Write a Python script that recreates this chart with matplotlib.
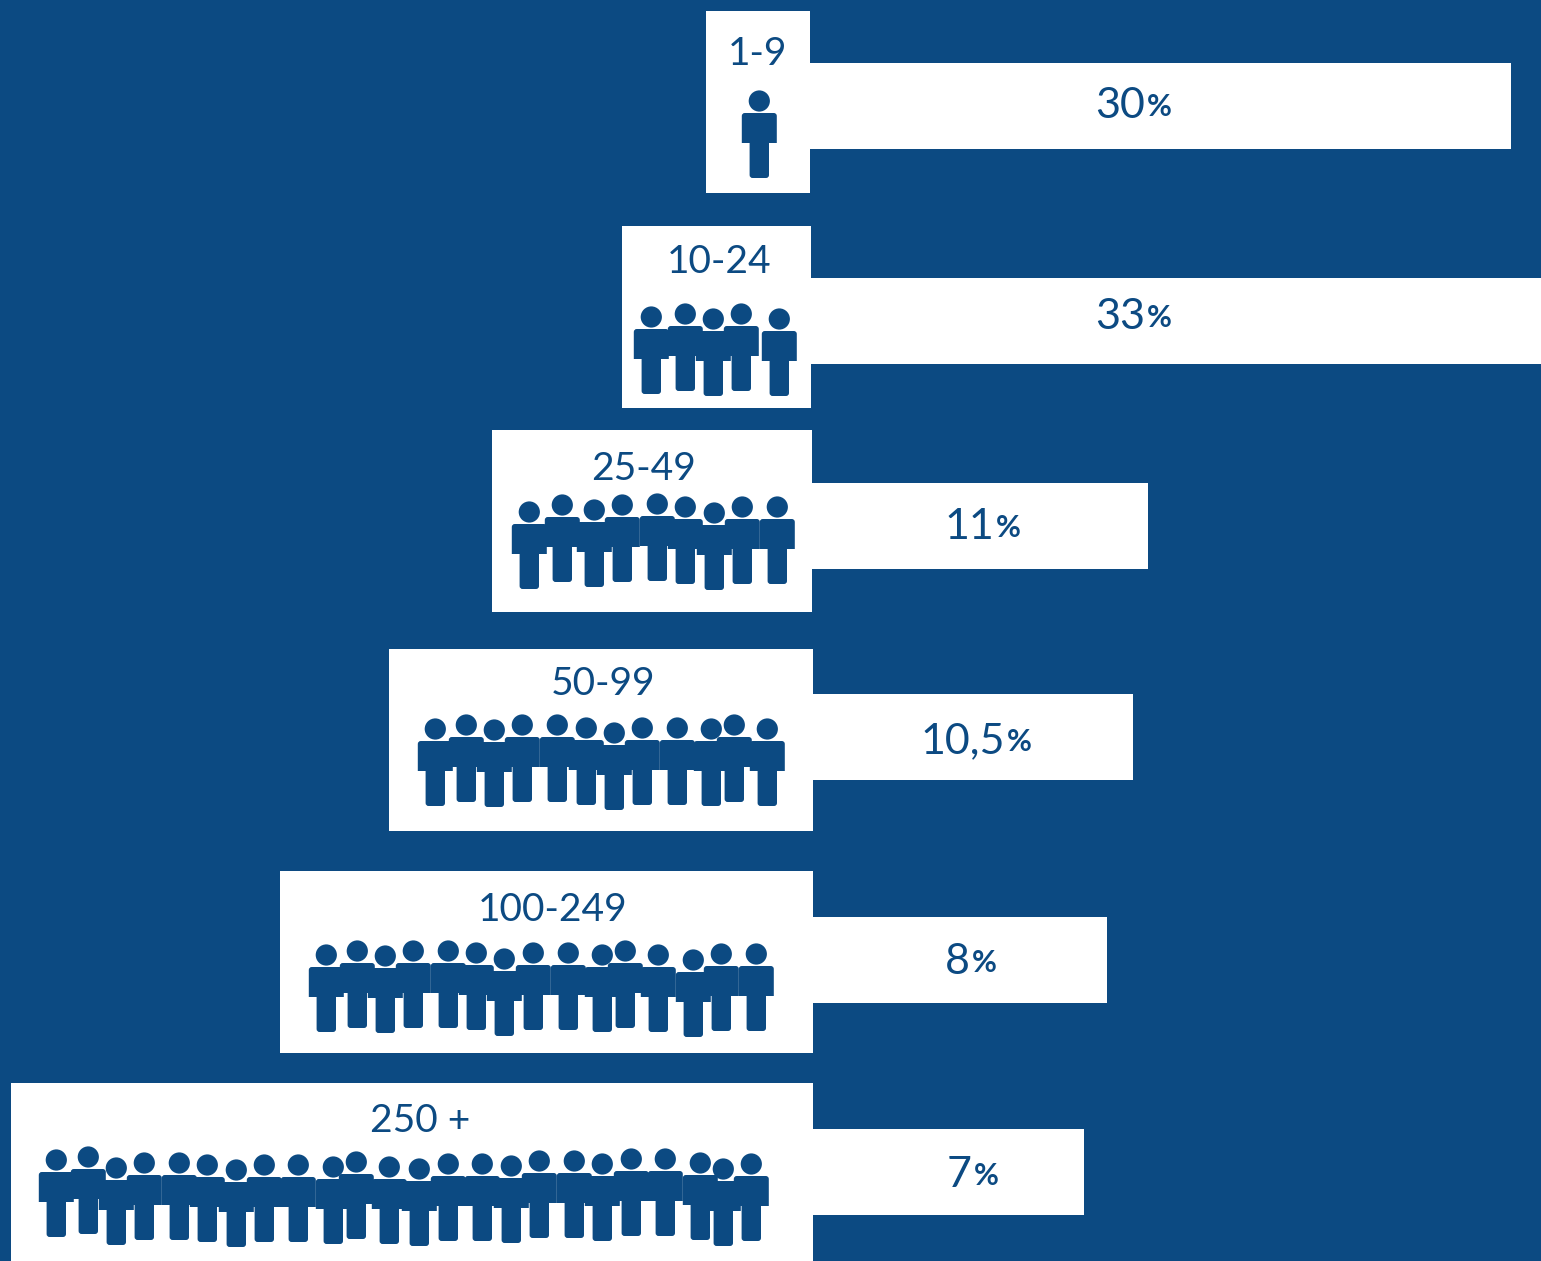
import numpy as np
import matplotlib
matplotlib.use("Agg")
import matplotlib.pyplot as plt
from matplotlib.patches import PathPatch, Rectangle
from matplotlib.path import Path

# Share of companies by number of employees
size_labels = ["1-9", "10-24", "25-49", "50-99", "100-249", "250 +"]
shares = [30, 33, 11, 10.5, 8, 7]
share_labels = ["30", "33", "11", "10,5", "8", "7"]

# Pictogram heads for each size class (x, y on the canvas grid)
people_x = [
    [759],
    [651, 685, 713, 741, 779],
    [529, 562, 594, 622, 657, 685, 714, 742, 777],
    [435, 466, 494, 522, 557, 586, 614, 642, 677, 711, 734, 767],
    [326, 357, 385, 413, 448, 476, 504, 533, 568, 602, 625, 658, 693, 721, 756],
    [56, 88, 116, 144, 179, 207, 236, 264, 298, 333, 356, 389, 419, 448, 482,
     511, 539, 574, 602, 631, 665, 700, 723, 751],
]
people_y = [
    [101],
    [317, 314, 319, 314, 319],
    [512, 505, 510, 505, 504, 507, 513, 507, 507],
    [729, 725, 730, 725, 725, 728, 733, 728, 728, 729, 725, 729],
    [955, 951, 956, 951, 951, 953, 959, 953, 953, 955, 951, 955, 960, 954, 954],
    [1160, 1157, 1168, 1163, 1163, 1165, 1170, 1165, 1165, 1167, 1162, 1167, 1169,
     1164, 1164, 1166, 1161, 1161, 1164, 1159, 1159, 1163, 1169, 1164],
]

# Layout of the panels
W, H = 1541, 1261
NAVY = "#0C4A82"
card_left = [706, 622, 492, 389, 280, 11]
card_right = [810, 811, 812, 813, 813, 813]
card_top = [11, 226, 430, 649, 871, 1083]
card_height = 182
bar_center = [106, 321, 526, 737, 960, 1172]
bar_height = 86
range_x = [757, 719, 644, 603, 553, 420]
range_y = [54, 262, 469, 684, 910, 1121]
number_right = [1145, 1145, 994, 1005, 970, 972]
number_y = [106, 317, 527, 741, 962, 1175]

# The bars follow a hand-tuned, non-proportional scale: share -> pixels from the baseline
BAR_ORIGIN = 805
scale_share = np.array([0, 7, 8, 10.5, 11, 30, 33, 40])
scale_px = np.array([0, 279, 302, 328, 343, 706, 776, 936])


def share_to_px(v):
    return np.interp(v, scale_share, scale_px)


def px_to_share(v):
    return np.interp(v, scale_px, scale_share)


def person_path(cx, cy):
    """Head plus a T-shaped body with rounded corners."""
    head = Path.circle((cx, cy), 10.6)
    t_top, t_bot, leg_bot = cy + 12, cy + 42, cy + 77
    tw, lw, r = 17.5, 9.7, 3.0
    verts = [
        (cx - tw, t_top + r), (cx - tw, t_top), (cx - tw + r, t_top),
        (cx + tw - r, t_top), (cx + tw, t_top), (cx + tw, t_top + r),
        (cx + tw, t_bot), (cx + lw, t_bot),
        (cx + lw, leg_bot - r), (cx + lw, leg_bot), (cx + lw - r, leg_bot),
        (cx - lw + r, leg_bot), (cx - lw, leg_bot), (cx - lw, leg_bot - r),
        (cx - lw, t_bot), (cx - tw, t_bot), (cx - tw, t_top + r),
    ]
    codes = [
        Path.MOVETO, Path.CURVE3, Path.CURVE3,
        Path.LINETO, Path.CURVE3, Path.CURVE3,
        Path.LINETO, Path.LINETO,
        Path.LINETO, Path.CURVE3, Path.CURVE3,
        Path.LINETO, Path.CURVE3, Path.CURVE3,
        Path.LINETO, Path.LINETO, Path.CLOSEPOLY,
    ]
    return Path.make_compound_path(head, Path(verts, codes))


plt.rcParams["font.family"] = ["Lato", "DejaVu Sans"]
fig = plt.figure(figsize=(W / 100, H / 100), dpi=100, facecolor=NAVY)

# Bars on their own axes, reaching to the right edge of the canvas
ax_bars = fig.add_axes([BAR_ORIGIN / W, 0, (W - BAR_ORIGIN) / W, 1], zorder=1)
ax_bars.set_xscale("function", functions=(share_to_px, px_to_share))
ax_bars.set_xlim(0, px_to_share(W - BAR_ORIGIN))
ax_bars.set_ylim(H, 0)
ax_bars.axis("off")
ax_bars.barh(bar_center, shares, height=bar_height, color="white", linewidth=0)

# Cards, pictograms and labels on a canvas-wide overlay
ax = fig.add_axes([0, 0, 1, 1], zorder=2)
ax.set_xlim(0, W)
ax.set_ylim(H, 0)
ax.axis("off")
ax.patch.set_alpha(0)

for i, label in enumerate(size_labels):
    ax.add_patch(Rectangle((card_left[i], card_top[i]), card_right[i] - card_left[i],
                           card_height, facecolor="white", linewidth=0, zorder=2))
    ax.text(range_x[i], range_y[i], label, color=NAVY, fontsize=28,
            ha="center", va="center", zorder=4)
    for cx, cy in zip(people_x[i], people_y[i]):
        ax.add_patch(PathPatch(person_path(cx + 0.3, cy), facecolor=NAVY, linewidth=0, zorder=3))
    ax.text(number_right[i], number_y[i], share_labels[i], color=NAVY, fontsize=31,
            ha="right", va="center", zorder=4)
    ax.text(number_right[i] + 2, number_y[i] + 1, "%", color=NAVY, fontsize=22,
            fontweight="bold", ha="left", va="center", zorder=4)

fig.savefig("out.png", dpi=100, facecolor=NAVY)
